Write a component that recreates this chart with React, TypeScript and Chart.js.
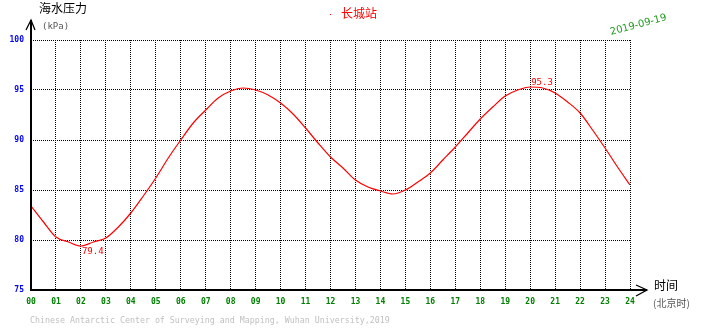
import React, { useEffect, useRef } from "react";
import { Chart, registerables } from "chart.js";

Chart.register(...registerables);

// Hours of the day (Beijing time)
const hours: number[] = [
  0, 0.5, 1, 1.5, 2, 2.5, 3, 3.5, 4, 4.5, 5, 5.5, 6, 6.5, 7, 7.5, 8, 8.5, 9, 9.5,
  10, 10.5, 11, 11.5, 12, 12.5, 13, 13.5, 14, 14.5, 15, 15.5, 16, 16.5, 17, 17.5,
  18, 18.5, 19, 19.5, 20, 20.5, 21, 21.5, 22, 22.5, 23, 23.5, 24,
];

// Sea water pressure (kPa)
const pressure: number[] = [
  83.4, 81.8, 80.3, 79.8, 79.4, 79.8, 80.2, 81.3, 82.7, 84.4, 86.2, 88.2, 90.0, 91.7,
  93.0, 94.2, 94.9, 95.2, 95.0, 94.5, 93.7, 92.6, 91.2, 89.7, 88.3, 87.2, 86.0, 85.3,
  84.9, 84.6, 85.0, 85.8, 86.7, 88.0, 89.3, 90.7, 92.1, 93.3, 94.4, 95.0, 95.3, 95.2,
  94.7, 93.8, 92.7, 91.0, 89.2, 87.3, 85.5,
];

const xTickLabels: string[] = [
  "00", "01", "02", "03", "04", "05", "06", "07", "08", "09", "10", "11", "12",
  "13", "14", "15", "16", "17", "18", "19", "20", "21", "22", "23", "24",
];

const yTickValues: number[] = [75, 80, 85, 90, 95, 100];

const titleText = "海水压力";
const unitText = "(kPa)";
const stationText = "长城站";
const dateText = "2019-09-19";
const xTitleText = "时间";
const xUnitText = "(北京时)";
const footerText = "Chinese Antarctic Center of Surveying and Mapping, Wuhan University,2019";

const CJK = '"Noto Sans CJK SC", "Noto Sans", sans-serif';
const MONO = '"DejaVu Sans Mono", "Liberation Mono", monospace';

const decorPlugin = {
  id: "decor",
  beforeDraw(chart: any) {
    const ctx = chart.ctx;
    ctx.save();
    ctx.fillStyle = "#ffffff";
    ctx.fillRect(0, 0, chart.width, chart.height);
    ctx.restore();
  },
  afterDraw(chart: any) {
    const ctx = chart.ctx;
    const xs = chart.scales.x;
    const ys = chart.scales.y;
    const left = chart.chartArea.left;
    const bottom = chart.chartArea.bottom;
    ctx.save();

    // axes
    ctx.fillStyle = "#000";
    ctx.fillRect(left - 1, 20, 2, bottom - 20 + 1);
    ctx.fillRect(left - 1, bottom - 1, 647 - left + 1, 2);
    ctx.strokeStyle = "#000";
    ctx.lineWidth = 1.3;
    ctx.beginPath();
    ctx.moveTo(left - 5, 30);
    ctx.lineTo(left, 20);
    ctx.lineTo(left + 4, 30);
    ctx.stroke();
    ctx.beginPath();
    ctx.moveTo(636, bottom - 5);
    ctx.lineTo(647, bottom);
    ctx.lineTo(636, bottom + 6);
    ctx.stroke();

    // titles
    ctx.textBaseline = "alphabetic";
    ctx.textAlign = "left";
    ctx.fillStyle = "#000";
    ctx.font = `12px ${CJK}`;
    ctx.fillText(titleText, 39, 13);
    ctx.fillStyle = "#555";
    ctx.font = `9px ${MONO}`;
    ctx.fillText(unitText, 42, 29);

    ctx.fillStyle = "#ff0000";
    ctx.fillRect(330, 14, 1, 1);
    ctx.font = `12px ${CJK}`;
    ctx.fillText(stationText, 341, 18);

    ctx.save();
    ctx.translate(611, 35);
    ctx.rotate((-15 * Math.PI) / 180);
    ctx.fillStyle = "#1f9a1f";
    ctx.font = `10px "DejaVu Sans", sans-serif`;
    ctx.fillText(dateText, 0, 0);
    ctx.restore();

    ctx.fillStyle = "#000";
    ctx.font = `12px ${CJK}`;
    ctx.fillText(xTitleText, 654, 290);
    ctx.fillStyle = "#555";
    ctx.font = `10px ${CJK}`;
    ctx.fillText(xUnitText, 653, 307);

    ctx.fillStyle = "#c0c0c0";
    ctx.font = `8.3px ${MONO}`;
    ctx.fillText(footerText, 30, 323);

    // min / max annotations
    let iMin = 0;
    let iMax = 0;
    pressure.forEach((v, i) => {
      if (v < pressure[iMin]) iMin = i;
      if (v > pressure[iMax]) iMax = i;
    });
    ctx.fillStyle = "#ff0000";
    ctx.font = `9px ${MONO}`;
    const mx = xs.getPixelForValue(hours[iMin]);
    const my = ys.getPixelForValue(pressure[iMin]);
    ctx.fillText(pressure[iMin].toFixed(1), mx + 1, my + 8);
    const Mx = xs.getPixelForValue(hours[iMax]);
    const My = ys.getPixelForValue(pressure[iMax]);
    ctx.fillText(pressure[iMax].toFixed(1), Mx + 1, My - 2);

    ctx.restore();
  },
};

export default function App() {
  const ref = useRef<HTMLCanvasElement | null>(null);
  useEffect(() => {
    if (!ref.current) return;
    const chart = new Chart(ref.current, {
      type: "line",
      data: {
        datasets: [
          {
            data: hours.map((h, i) => ({ x: h, y: pressure[i] })),
            borderColor: "#ff0000",
            borderWidth: 1.2,
            pointRadius: 0,
            cubicInterpolationMode: "monotone",
            fill: false,
          },
        ],
      },
      options: {
        animation: false,
        responsive: false,
        events: [],
        layout: { padding: { left: 0, top: 40, right: 80, bottom: 0 } },
        plugins: { legend: { display: false }, tooltip: { enabled: false }, title: { display: false } },
        scales: {
          x: {
            type: "linear",
            min: 0,
            max: 24,
            afterFit: (s: any) => {
              s.height = 38;
            },
            afterBuildTicks: (s: any) => {
              s.ticks = xTickLabels.map((_, i) => ({ value: i }));
            },
            grid: { color: "#000", lineWidth: 1, drawTicks: false },
            border: { display: false, dash: [1, 1] },
            ticks: {
              padding: 7,
              color: "#008000",
              font: { family: MONO, size: 8, weight: "bold" },
              maxRotation: 0,
              autoSkip: false,
              callback: (v: any) => xTickLabels[Math.round(Number(v))] ?? "",
            },
          },
          y: {
            type: "linear",
            min: 75,
            max: 100,
            afterFit: (s: any) => {
              s.width = 31;
            },
            afterBuildTicks: (s: any) => {
              s.ticks = yTickValues.map((v) => ({ value: v }));
            },
            grid: { color: "#000", lineWidth: 1, drawTicks: false },
            border: { display: false, dash: [1, 1] },
            ticks: {
              padding: 7,
              color: "#0000ff",
              font: { family: MONO, size: 8, weight: "bold" },
              callback: (v: any) => String(v),
            },
          },
        },
      } as any,
      plugins: [decorPlugin],
    });
    return () => chart.destroy();
  }, []);
  return (
    <div style={{ position: "absolute", left: 0, top: 0, width: 710, height: 328, background: "#fff" }}>
      <canvas ref={ref} width={710} height={328} style={{ display: "block", width: 710, height: 328 }} />
    </div>
  );
}
